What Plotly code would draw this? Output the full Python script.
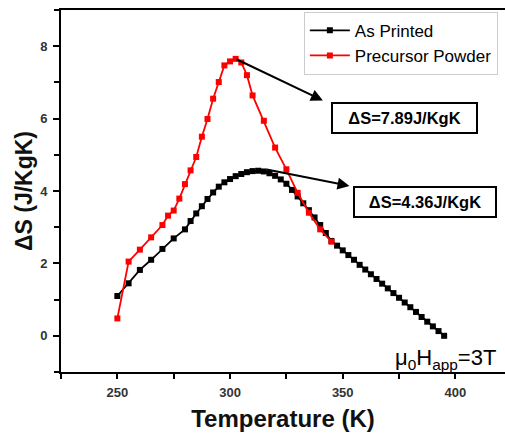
import plotly.graph_objects as go

# As Printed (black)
t_printed = [250, 255, 260, 265, 270, 275, 280, 282.5, 285, 287.5, 290, 292.5, 295, 297.5,
             300, 302.5, 305, 307.5, 310, 312.5, 315, 317.5, 320, 322.5, 325, 327.5, 330,
             332.5, 335, 337.5, 340, 342.5, 345, 347.5, 350, 352.5, 355, 357.5, 360, 362.5,
             365, 367.5, 370, 372.5, 375, 377.5, 380, 382.5, 385, 387.5, 390, 392.5, 395]
ds_printed = [1.10, 1.45, 1.82, 2.10, 2.40, 2.69, 2.94, 3.17, 3.38, 3.58, 3.78, 3.96, 4.12, 4.24,
              4.33, 4.41, 4.47, 4.52, 4.55, 4.56, 4.54, 4.49, 4.42, 4.32, 4.20, 4.03, 3.85,
              3.66, 3.47, 3.27, 3.06, 2.84, 2.62, 2.49, 2.36, 2.23, 2.10, 1.96, 1.83, 1.70,
              1.57, 1.44, 1.31, 1.18, 1.05, 0.92, 0.79, 0.66, 0.52, 0.39, 0.26, 0.13, 0.00]

# Precursor Powder (red)
t_powder = [250, 255, 260, 265, 270, 272.5, 275, 277.5, 280, 282.5, 285, 287.5, 290, 292.5,
            295, 297.5, 300, 302.5, 305, 307.5, 310, 315, 320, 325, 330, 335, 340, 345]
ds_powder = [0.48, 2.05, 2.38, 2.72, 3.06, 3.32, 3.46, 3.79, 4.19, 4.57, 4.94, 5.50, 5.99, 6.55,
             7.01, 7.47, 7.58, 7.65, 7.55, 7.20, 6.64, 5.94, 5.20, 4.60, 3.95, 3.40, 2.94, 2.60]

x_ticks = [250, 300, 350, 400]
y_ticks = [0, 2, 4, 6, 8]

FONT = "Arial, Liberation Sans, sans-serif"

fig = go.Figure()
fig.add_trace(go.Scatter(x=t_printed, y=ds_printed, mode="lines+markers", name="As Printed",
                         line=dict(color="black", width=1.8),
                         marker=dict(symbol="square", size=6, color="black")))
fig.add_trace(go.Scatter(x=t_powder, y=ds_powder, mode="lines+markers", name="Precursor Powder",
                         line=dict(color="#ff0000", width=1.8),
                         marker=dict(symbol="square", size=6, color="#ff0000")))

# arrows
fig.add_annotation(x=341.2, y=6.5, ax=302.2, ay=7.66, xref="x", yref="y", axref="x", ayref="y",
                   text="", showarrow=True, arrowhead=2, arrowsize=1.2, arrowwidth=2, arrowcolor="black")
fig.add_annotation(x=353.0, y=4.14, ax=315.6, ay=4.60, xref="x", yref="y", axref="x", ayref="y",
                   text="", showarrow=True, arrowhead=2, arrowsize=1.2, arrowwidth=2, arrowcolor="black")
# boxes
fig.add_annotation(x=377.3, y=6.01, xref="x", yref="y", text="<b>ΔS=7.89J/KgK</b>", showarrow=False,
                   font=dict(family=FONT, size=16.5, color="black"), bordercolor="black", borderwidth=2,
                   borderpad=0, width=143, height=28, bgcolor="white")
fig.add_annotation(x=386.4, y=3.69, xref="x", yref="y", text="<b>ΔS=4.36J/KgK</b>", showarrow=False,
                   font=dict(family=FONT, size=16.5, color="black"), bordercolor="black", borderwidth=2,
                   borderpad=0, width=140, height=28, bgcolor="white")
fig.add_annotation(x=395.5, y=-0.65, xref="x", yref="y", text="μ<sub>0</sub>H<sub>app</sub>=3T",
                   showarrow=False, font=dict(family=FONT, size=22, color="black"))

fig.update_layout(
    width=505, height=436,
    margin=dict(l=61, r=0, t=10, b=64),
    paper_bgcolor="white", plot_bgcolor="white",
    font=dict(family=FONT, color="black"),
    showlegend=True,
    legend=dict(x=0.547, y=0.995, xanchor="left", yanchor="top",
                bordercolor="#cccccc", borderwidth=1, bgcolor="white",
                font=dict(family=FONT, size=17, color="black"),
                tracegroupgap=0, itemwidth=40),
    xaxis=dict(range=[225, 422], tickvals=x_ticks, ticktext=[str(v) for v in x_ticks],
               automargin=False,
               showgrid=False, zeroline=False, showline=True, linecolor="black", linewidth=2,
               mirror=True, ticks="outside", ticklen=5, tickwidth=1.5, tickcolor="black",
               minor=dict(dtick=25, tick0=225, ticks="outside", ticklen=5, tickwidth=1.5, tickcolor="black"),
               tickfont=dict(family=FONT, size=13, color="#333333", weight="bold"),
               ticklabelstandoff=2,
               title=dict(text="<b>Temperature (K)</b>", font=dict(family=FONT, size=24, color="#111111"),
                          standoff=12)),
    yaxis=dict(range=[-1.0, 9.0], tickvals=y_ticks, ticktext=[str(v) for v in y_ticks],
               automargin=False,
               showgrid=False, zeroline=False, showline=True, linecolor="black", linewidth=2,
               mirror=False, ticks="outside", ticklen=6, tickwidth=1.5, tickcolor="black",
               minor=dict(dtick=1, tick0=-1, ticks="outside", ticklen=5, tickwidth=1.5, tickcolor="black"),
               tickfont=dict(family=FONT, size=13, color="#333333", weight="bold"),
               ticklabelstandoff=3,
               title=dict(text="<b>ΔS (J/KgK)</b>", font=dict(family=FONT, size=23, color="#111111"),
                          standoff=1)),
)

fig.write_html("out.html", config={"displayModeBar": False},
               post_script="document.body.style.margin='0';document.body.style.overflow='hidden';")
